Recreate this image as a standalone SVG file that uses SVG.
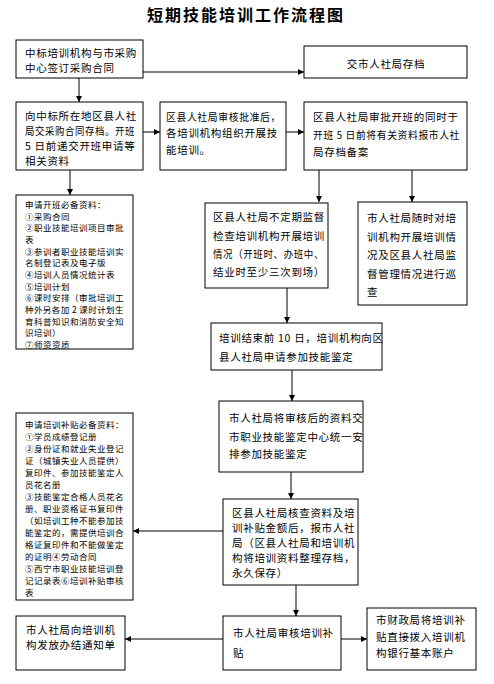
<svg xmlns="http://www.w3.org/2000/svg" width="494" height="684" viewBox="0 0 494 684">
<style>
.b{fill:#fff;stroke:#000;stroke-width:1}
.t{font-family:"Noto Sans CJK SC","Noto Sans",sans-serif;font-size:10.5px;letter-spacing:0.7px;fill:#000}
.s{font-family:"Noto Sans CJK SC","Noto Sans",sans-serif;font-size:8.5px;letter-spacing:0.5px;fill:#000}
.ttl{font-family:"Noto Sans CJK SC","Noto Sans",sans-serif;font-size:16px;font-weight:bold;letter-spacing:2px;fill:#000}
.c{stroke:#000;stroke-width:1;fill:none;marker-end:url(#ah)}
</style>
<defs>
<marker id="ah" viewBox="0 0 8 8" refX="8" refY="4" markerWidth="6" markerHeight="6" orient="auto" markerUnits="userSpaceOnUse">
<path d="M0,0L8,4L0,8z" fill="#000"/>
</marker>
</defs>
<rect width="494" height="684" fill="#fff"/>
<text class="ttl" x="147" y="21">短期技能培训工作流程图</text>

<g id="connectors">
<line class="c" x1="143" y1="72" x2="304" y2="72"/>
<line class="c" x1="79" y1="78" x2="79" y2="102"/>
<line class="c" x1="143" y1="132" x2="160" y2="132"/>
<line class="c" x1="286" y1="132" x2="304" y2="132"/>
<line class="c" x1="70" y1="170" x2="70" y2="195"/>
<line class="c" x1="319" y1="170" x2="319" y2="202"/>
<line class="c" x1="412" y1="170" x2="412" y2="202"/>
<line class="c" x1="287" y1="288" x2="287" y2="323"/>
<line class="c" x1="292" y1="370" x2="292" y2="401"/>
<line class="c" x1="291" y1="472" x2="291" y2="499"/>
<line class="c" x1="223" y1="531" x2="133" y2="531"/>
<line class="c" x1="296" y1="585" x2="296" y2="616"/>
<line class="c" x1="223" y1="639" x2="125" y2="639"/>
<line class="c" x1="341" y1="639" x2="367" y2="639"/>
</g>

<g id="n1"><rect class="b" x="16" y="40" width="127" height="38"/>
<text class="t" x="25" y="57">中标培训机构与市采购</text>
<text class="t" x="25" y="72">中心签订采购合同</text></g>

<g id="n2"><rect class="b" x="304" y="46" width="163" height="32"/>
<text class="t" x="386" y="68" text-anchor="middle">交市人社局存档</text></g>

<g id="n3"><rect class="b" x="16" y="102" width="127" height="68"/>
<text class="t" x="25" y="120">向中标所在地区县人社</text>
<text class="t" x="25" y="135" textLength="110" lengthAdjust="spacingAndGlyphs">局交采购合同存档。开班</text>
<text class="t" x="25" y="150">5 日前递交开班申请等</text>
<text class="t" x="25" y="165">相关资料</text></g>

<g id="n4"><rect class="b" x="160" y="102" width="126" height="68"/>
<text class="t" x="166" y="121" textLength="115" lengthAdjust="spacingAndGlyphs">区县人社局审核批准后，</text>
<text class="t" x="166" y="137">各培训机构组织开展技</text>
<text class="t" x="166" y="154">能培训。</text></g>

<g id="n5"><rect class="b" x="304" y="102" width="163" height="68"/>
<text class="t" x="313" y="121">区县人社局审批开班的同时于</text>
<text class="t" x="313" y="139" textLength="147" lengthAdjust="spacingAndGlyphs">开班 5 日前将有关资料报市人社</text>
<text class="t" x="313" y="156">局存档备案</text></g>

<g id="n6"><rect class="b" x="16" y="195" width="117" height="154"/>
<text class="s" x="25" y="208">申请开班必备资料：</text>
<text class="s" x="25" y="219.7">①采购合同</text>
<text class="s" x="25" y="231.3">②职业技能培训项目审批</text>
<text class="s" x="25" y="243">表</text>
<text class="s" x="25" y="254.7">③参训者职业技能培训实</text>
<text class="s" x="25" y="266.3">名制登记表及电子版</text>
<text class="s" x="25" y="278">④培训人员情况统计表</text>
<text class="s" x="25" y="289.7">⑤培训计划</text>
<text class="s" x="25" y="301.3">⑥课时安排（审批培训工</text>
<text class="s" x="25" y="313" textLength="99" lengthAdjust="spacing">种外另各加 2 课时计划生</text>
<text class="s" x="25" y="324.7">育科普知识和消防安全知</text>
<text class="s" x="25" y="336.3">识培训）</text>
<text class="s" x="25" y="348">⑦师资资质</text></g>

<g id="n7"><rect class="b" x="205" y="203" width="123" height="85"/>
<text class="t" x="213" y="221">区县人社局不定期监督</text>
<text class="t" x="213" y="240">检查培训机构开展培训</text>
<text class="t" x="213" y="258" textLength="111" lengthAdjust="spacingAndGlyphs">情况（开班时、办班中、</text>
<text class="t" x="213" y="276">结业时至少三次到场）</text></g>

<g id="n8"><rect class="b" x="358" y="202" width="109" height="103"/>
<text class="t" x="367" y="222">市人社局随时对培</text>
<text class="t" x="367" y="241">训机构开展培训情</text>
<text class="t" x="367" y="259">况及区县人社局监</text>
<text class="t" x="367" y="278">督管理情况进行巡</text>
<text class="t" x="367" y="296">查</text></g>

<g id="n9"><rect class="b" x="211" y="323" width="171" height="47"/>
<text class="t" x="219" y="342">培训结束前 10 日，培训机构向区</text>
<text class="t" x="219" y="361">县人社局申请参加技能鉴定</text></g>

<g id="n10"><rect class="b" x="219" y="401" width="144" height="71"/>
<text class="t" x="229" y="422">市人社局将审核后的资料交</text>
<text class="t" x="229" y="441">市职业技能鉴定中心统一安</text>
<text class="t" x="229" y="458">排参加技能鉴定</text></g>

<g id="n11"><rect class="b" x="16" y="413" width="117" height="187"/>
<text class="s" x="25" y="428">申请培训补贴必备资料：</text>
<text class="s" x="25" y="440">①学员成绩登记册</text>
<text class="s" x="25" y="452">②身份证和就业失业登记</text>
<text class="s" x="25" y="464">证（城镇失业人员提供）</text>
<text class="s" x="25" y="476">复印件、参加技能鉴定人</text>
<text class="s" x="25" y="488">员花名册</text>
<text class="s" x="25" y="500">③技能鉴定合格人员花名</text>
<text class="s" x="25" y="512">册、职业资格证书复印件</text>
<text class="s" x="25" y="524">（如培训工种不能参加技</text>
<text class="s" x="25" y="536">能鉴定的，需提供培训合</text>
<text class="s" x="25" y="548">格证复印件和不能做鉴定</text>
<text class="s" x="25" y="560">的证明④劳动合同</text>
<text class="s" x="25" y="572">⑤西宁市职业技能培训登</text>
<text class="s" x="25" y="584">记记录表⑥培训补贴审核</text>
<text class="s" x="25" y="596">表</text></g>

<g id="n12"><rect class="b" x="223" y="499" width="135" height="86"/>
<text class="t" x="232" y="517">区县人社局核查资料及培</text>
<text class="t" x="232" y="532">训补贴金额后，报市人社</text>
<text class="t" x="232" y="547">局（区县人社局和培训机</text>
<text class="t" x="232" y="562">构将培训资料整理存档，</text>
<text class="t" x="232" y="577">永久保存）</text></g>

<g id="n13"><rect class="b" x="16" y="616" width="109" height="54"/>
<text class="t" x="26" y="634">市人社局向培训机</text>
<text class="t" x="26" y="649">构发放办结通知单</text></g>

<g id="n14"><rect class="b" x="223" y="616" width="118" height="54"/>
<text class="t" x="233" y="637">市人社局审核培训补</text>
<text class="t" x="233" y="657">贴</text></g>

<g id="n15"><rect class="b" x="367" y="608" width="109" height="62"/>
<text class="t" x="376" y="624">市财政局将培训补</text>
<text class="t" x="376" y="641">贴直接拨入培训机</text>
<text class="t" x="376" y="657">构银行基本账户</text></g>
</svg>
